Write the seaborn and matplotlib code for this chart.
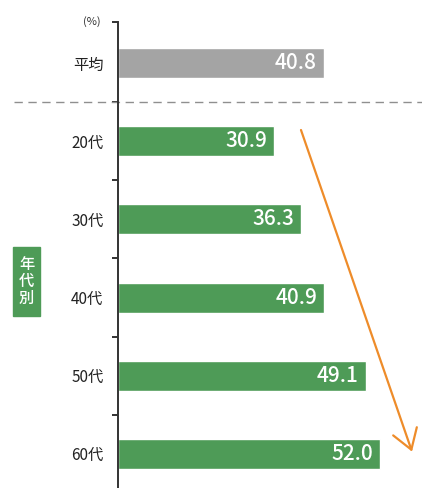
import matplotlib
matplotlib.use('Agg')
import matplotlib.pyplot as plt
import seaborn as sns
from matplotlib.patches import Rectangle

# chart data
categories = ['平均', '20代', '30代', '40代', '50代', '60代']
values = [40.8, 30.9, 36.3, 40.9, 49.1, 52.0]
bar_colors = ['#a4a4a4', '#4e9b57', '#4e9b57', '#4e9b57', '#4e9b57', '#4e9b57']
unit_label = '(%)'
group_label = '年代別'

sns.set_style('white')
plt.rcParams['font.family'] = ['Noto Sans CJK JP', 'DejaVu Sans']

fig = plt.figure(figsize=(4.22, 4.88), dpi=100)
ax = fig.add_axes([118 / 422, 0, 304 / 422, 1 - 22 / 488])

sns.barplot(x=values, y=categories, hue=categories, palette=bar_colors,
            orient='h', width=0.384, legend=False, saturation=1, ax=ax)

ax.set_xlim(0, 304 / 5.045)
ax.set_ylim(5.435, -0.524)

# spines / ticks
for side in ['top', 'right', 'bottom']:
    ax.spines[side].set_visible(False)
ax.spines['left'].set_color('#333333')
ax.spines['left'].set_linewidth(1.4)
ax.set_xticks([])
ax.set_xlabel('')
ax.set_ylabel('')
ax.tick_params(axis='y', which='major', left=False, pad=7)
for lab in ax.get_yticklabels():
    lab.set_fontsize(11)
    lab.set_color('#222222')
ax.set_yticks([-0.524, 0.5, 1.5, 2.5, 3.5, 4.5], minor=True)
ax.tick_params(axis='y', which='minor', left=True, length=4, width=1.4,
               color='#333333', direction='out')

# value labels inside bars
for i, v in enumerate(values):
    ax.text(v - 1.4, i, f'{v:.1f}', ha='right', va='center',
            color='white', fontsize=15, fontweight='medium')

# unit label at the top tick
ax.text(-0.056, -0.524, unit_label, transform=ax.get_yaxis_transform(),
        ha='right', va='center', fontsize=8, color='#333333')

# dashed separator between the average and the age groups
ax.plot([-0.342, 1.0], [0.5, 0.5], transform=ax.get_yaxis_transform(),
        ls=(0, (6, 4)), lw=1.0, color='#8f8f8f', clip_on=False)

# trend arrow
ax.annotate('', xy=(58.28, 4.97), xytext=(36.27, 0.857),
            arrowprops=dict(arrowstyle='->,head_length=1.4,head_width=0.9',
                            color='#ee8c2a', lw=1.6, shrinkA=0, shrinkB=0))

# green side label box
fig.patches.append(Rectangle((13 / 422, 1 - 316 / 488), 27 / 422, 69 / 488,
                             transform=fig.transFigure, color='#4e9b57'))
fig.text(26.5 / 422, 1 - 281.5 / 488, '\n'.join(group_label), ha='center',
         va='center', color='white', fontsize=11, fontweight='medium',
         linespacing=1.0)

fig.savefig('out.png', dpi=100)
